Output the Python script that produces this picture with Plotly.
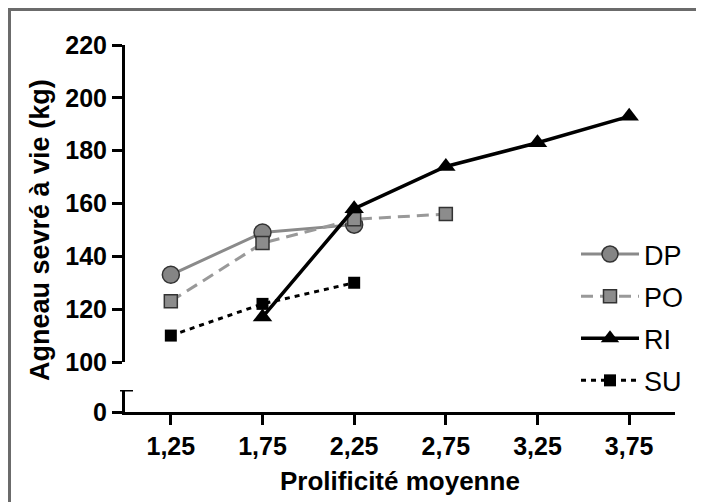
import plotly.graph_objects as go

x_ticks = [1.25, 1.75, 2.25, 2.75, 3.25, 3.75]
x_labels = ["1,25", "1,75", "2,25", "2,75", "3,25", "3,75"]

dp_x = [1.25, 1.75, 2.25]
dp_y = [133, 149, 152]
po_x = [1.25, 1.75, 2.25, 2.75]
po_y = [123, 145, 154, 156]
ri_x = [1.75, 2.25, 2.75, 3.25, 3.75]
ri_y = [117, 158, 174, 183, 193]
su_x = [1.25, 1.75, 2.25]
su_y = [110, 122, 130]

y_ticks = [100, 120, 140, 160, 180, 200, 220]

OFF = 8  # page body margin
W, H = 704 - OFF, 502 - OFF
# target pixel positions in the reference (page coords)
AX_L, AX_R, AX_T, AX_B = 125, 675, 45, 412
ml = AX_L - OFF
mt = AX_T - OFF
mr = W - (AX_R - OFF)
mb = H - (AX_B - OFF)
ph = AX_B - AX_T
pw = AX_R - AX_L

def py(pix):
    return (AX_B - pix) / ph

def px(pix):
    return (pix - AX_L) / pw

fig = go.Figure()

fig.add_trace(go.Scatter(
    x=dp_x, y=dp_y, name="DP", yaxis="y2", mode="lines+markers", legendgroup="a",
    line=dict(color="#8a8a8a", width=3),
    marker=dict(symbol="circle", size=17, color="#858585", line=dict(color="#333333", width=1.5))))
fig.add_trace(go.Scatter(
    x=po_x, y=po_y, name="PO", yaxis="y2", mode="lines+markers", legendgroup="b",
    line=dict(color="#999999", width=3, dash="12px,7px"),
    marker=dict(symbol="square", size=13, color="#8c8c8c", line=dict(color="#333333", width=1.5))))
fig.add_trace(go.Scatter(
    x=ri_x, y=ri_y, name="RI", yaxis="y2", mode="lines+markers", legendgroup="c",
    line=dict(color="#000000", width=3.5),
    marker=dict(symbol="triangle-up", size=17, color="#000000")))
fig.add_trace(go.Scatter(
    x=su_x, y=su_y, name="SU", yaxis="y2", mode="lines+markers", legendgroup="d",
    line=dict(color="#000000", width=3, dash="5px,5px"),
    marker=dict(symbol="square", size=12, color="#000000")))

tickfont = dict(family="Liberation Sans", size=25, color="#000000", weight="bold")

low_top = 8.3

fig.update_layout(
    width=W, height=H,
    margin=dict(l=ml, r=mr, t=mt, b=mb),
    paper_bgcolor="white", plot_bgcolor="white",
    showlegend=True,
    legend=dict(x=px(576), y=py(230), xanchor="left", yanchor="top",
                font=dict(family="Liberation Sans", size=27, color="#000000"),
                bgcolor="rgba(0,0,0,0)", itemwidth=58, tracegroupgap=4),
    xaxis=dict(range=[1.0, 4.0], tickvals=x_ticks, ticktext=x_labels,
               showline=True, linecolor="black", linewidth=3,
               ticks="outside", ticklen=10, tickwidth=3, tickcolor="black",
               showgrid=False, zeroline=False, tickfont=tickfont,
               anchor="y"),
    yaxis=dict(domain=[0, (AX_B - 390) / ph], range=[0, low_top],
               tickvals=[0], ticktext=["0"],
               showline=True, linecolor="black", linewidth=3,
               ticks="outside", ticklen=10, tickwidth=3, tickcolor="black",
               showgrid=False, zeroline=False, tickfont=tickfont),
    yaxis2=dict(domain=[(AX_B - 362) / ph, 1], range=[100, 220],
                tickvals=y_ticks,
                showline=True, linecolor="black", linewidth=3,
                ticks="outside", ticklen=10, tickwidth=3, tickcolor="black",
                showgrid=False, zeroline=False, tickfont=tickfont,
                anchor="x"),
    shapes=[
        dict(type="line", xref="paper", yref="y", x0=px(120), x1=px(133),
             y0=low_top, y1=low_top, line=dict(color="black", width=3)),
        dict(type="rect", xref="paper", yref="paper",
             x0=px(9.5), x1=px(720), y0=py(9.5), y1=py(520),
             line=dict(color="#6b6b6b", width=3), fillcolor="rgba(0,0,0,0)", layer="below"),
    ],
    annotations=[
        dict(text="Agneau sevré à vie (kg)", xref="paper", yref="paper",
             x=px(40), y=py(230), textangle=-90, showarrow=False,
             xanchor="center", yanchor="middle",
             font=dict(family="Liberation Sans", size=27, color="#000000", weight="bold")),
        dict(text="Prolificité moyenne", xref="paper", yref="paper",
             x=px(400), y=py(481), showarrow=False,
             xanchor="center", yanchor="middle",
             font=dict(family="Liberation Sans", size=26, color="#000000", weight="bold")),
    ],
)

fig.write_html("out.html")
